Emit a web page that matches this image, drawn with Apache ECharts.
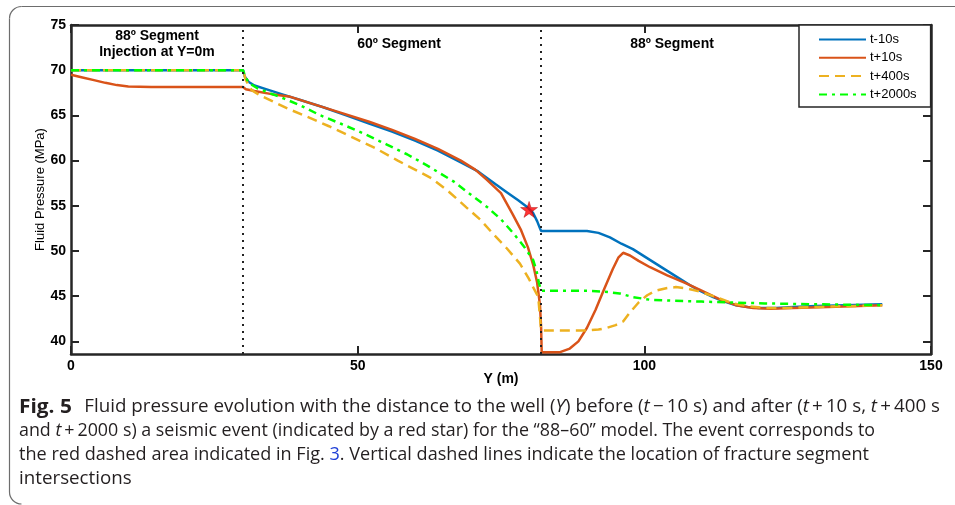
<!DOCTYPE html>
<html><head><meta charset="utf-8">
<script src="https://cdn.jsdelivr.net/npm/echarts@6/dist/echarts.min.js"></script>
<style>html,body{margin:0;padding:0;background:#fff}#c{width:955px;height:505px}</style>
</head><body><div id="c"></div>
<script>
const seriesNames = ['t-10s', 't+10s', 't+400s', 't+2000s'];
const yTicks = [40, 45, 50, 55, 60, 65, 70, 75];
const segmentBoundaries = [30, 82];
const eventPoint = [[79.9, 54.6]];

const pMinus10 = [[0,70],[30,70],[30.3,69.3],[31,68.7],[32,68.3],[34,67.9],[37,67.3],[40,66.7],[44,65.9],[48,65.0],[52,64.1],[56,63.2],[60,62.2],[64,61.1],[68,59.8],[71,58.8],[74,57.4],[76,56.5],[78,55.6],[79.5,54.9],[80.6,54.2],[81.3,53.3],[81.8,52.5],[82,52.2],[86,52.2],[90,52.2],[92,52.0],[94,51.5],[96,50.8],[98,50.2],[100,49.4],[102,48.6],[104,47.8],[106,47.0],[108,46.2],[110,45.5],[112,44.9],[114,44.4],[116,44.0],[118,43.8],[120,43.7],[123,43.7],[126,43.8],[130,43.9],[135,44.0],[141.5,44.1]];
const pPlus10 = [[0,69.5],[2,69.2],[4,68.9],[6,68.6],[8,68.35],[10,68.2],[14,68.15],[20,68.15],[30,68.15],[30.5,67.9],[32,67.7],[35,67.35],[38,67.1],[42,66.3],[47,65.3],[52,64.3],[56,63.4],[60,62.4],[64,61.3],[68,60.0],[70.5,59.0],[72.5,57.9],[75,56.4],[77,54.1],[78.5,52.3],[79.7,50.4],[80.6,48.5],[81.3,46.5],[81.8,44.0],[82,41.5],[82.1,38.8],[85.3,38.8],[87,39.2],[88.5,40.0],[90,41.5],[91.5,43.5],[93,45.8],[94.5,48.0],[95.5,49.3],[96.3,49.8],[97.5,49.5],[99,48.9],[101,48.2],[104,47.3],[107,46.5],[110,45.6],[113,44.7],[116,44.0],[119,43.7],[122,43.6],[126,43.7],[132,43.8],[141.5,44.0]];
const pPlus400 = [[0,70],[30,70],[30.5,68.9],[31.5,67.8],[33,67.2],[35,66.6],[38,65.7],[41,64.9],[45,63.8],[49,62.6],[53,61.4],[57,60.0],[60,59.0],[63,58.0],[66,56.5],[69,54.8],[71.5,53.4],[73.6,51.9],[76,50.3],[78.3,48.6],[79.8,47.0],[80.6,46.0],[81.5,44.9],[82,41.2],[86,41.2],[90,41.2],[92,41.3],[93.5,41.5],[95,41.8],[96.3,42.2],[97.5,43.2],[99,44.3],[100.5,45.1],[102,45.6],[104,45.9],[105.5,46.0],[107,45.9],[109.7,45.5],[112,45.0],[115.5,44.2],[118,43.9],[121,43.7],[124,43.7],[130,43.8],[141.5,44.0]];
const pPlus2000 = [[0,70],[30,70],[30.4,69.3],[31,68.6],[32.5,68.0],[34.5,67.5],[37,66.9],[40,66.1],[43.5,65.0],[47,64.1],[51,63.0],[55,61.8],[58.6,60.7],[62,59.5],[66.7,57.7],[70,56.1],[72.5,54.9],[75,53.5],[77.1,52.0],[79,50.5],[80.6,49.0],[81.2,47.8],[81.6,46.5],[82,45.6],[86,45.6],[90,45.6],[93,45.5],[95.7,45.3],[98,44.9],[101,44.6],[105,44.5],[110,44.4],[115,44.3],[121,44.2],[130,44.1],[141.5,44.0]];

const captionLines = [
  [['b','Fig. 5'],['n','\u2002\u2009Fluid pressure evolution with the distance to the well ('],['i','Y'],['n',') before ('],['i','t'],['n','\u2009\u2212\u200910 s) and after ('],['i','t'],['n','\u2009+\u200910 s, '],['i','t'],['n','\u2009+\u2009400 s']],
  [['n','and '],['i','t'],['n','\u2009+\u20092000 s) a seismic event (indicated by a red star) for the \u201c88\u201360\u201d model. The event corresponds to']],
  [['n','the red dashed area indicated in Fig. '],['l','3'],['n','. Vertical dashed lines indicate the location of fracture segment']],
  [['n','intersections']]
];
const captionWidths = [921, 856, 850, null];

const AX = '#262626';
const FONT = 'Liberation Sans, Arial, Helvetica, sans-serif';
const CAPFONT = '"Open Sans", "Noto Sans", sans-serif';
const CAPSIZE = 18;
const BOLDSIZE = 20;

const cv = document.createElement('canvas').getContext('2d');
function fontFor(k){
  const w = k === 'b' ? 'bold ' : '';
  const s = k === 'i' ? 'italic ' : '';
  return s + w + (k === 'b' ? BOLDSIZE : CAPSIZE) + 'px ' + CAPFONT;
}
function lineWidth(line){
  let w = 0;
  line.forEach(([k, t]) => { cv.font = fontFor(k); w += cv.measureText(t).width; });
  return w;
}
const baseScale = captionWidths[0] / lineWidth(captionLines[0]);
const capY = [407, 431, 455, 479];
const captionGraphics = captionLines.map((line, i) => ({
  type: 'text', x: 19, y: capY[i], silent: true,
  scaleX: captionWidths[i] ? captionWidths[i] / lineWidth(line) : baseScale,
  style: {
    text: line.map(([k, t]) => '{' + k + '|' + t + '}').join(''),
    verticalAlign: 'middle', align: 'left',
    rich: {
      n: { fontFamily: CAPFONT, fontSize: CAPSIZE, fill: '#231f20' },
      b: { fontFamily: CAPFONT, fontSize: BOLDSIZE, fontWeight: 'bold', fill: '#231f20' },
      i: { fontFamily: CAPFONT, fontSize: CAPSIZE, fontStyle: 'italic', fill: '#231f20' },
      l: { fontFamily: CAPFONT, fontSize: CAPSIZE, fill: '#1f3fd6' }
    }
  }
}));

const chart = echarts.init(document.getElementById('c'), null, { renderer: 'canvas' });

const axisCommon = {
  axisLine: { show: true, onZero: false, lineStyle: { color: AX, width: 2.5 } },
  axisTick: { show: true, inside: true, length: 8, lineStyle: { color: AX, width: 2 } },
  splitLine: { show: false }
};
const starPath = 'path://M50,0 L61,35 L98,35 L68,57 L79,91 L50,70 L21,91 L32,57 L2,35 L39,35 Z';
const frameStyle = { fill: 'none', stroke: '#6d6d6d', lineWidth: 1.2 };

const option = {
  animation: false,
  backgroundColor: '#fff',
  grid: { left: 71, top: 25, right: 24, bottom: 151, containLabel: false },
  xAxis: [
    Object.assign({}, axisCommon, {
      type: 'value', min: 0, max: 150, interval: 50, position: 'bottom',
      axisLabel: { color: '#000', fontFamily: FONT, fontWeight: 'bold', fontSize: 14, margin: 5 },
      name: 'Y (m)', nameLocation: 'middle', nameGap: 18, nameMoveOverlap: false,
      nameTextStyle: { color: '#000', fontFamily: FONT, fontWeight: 'bold', fontSize: 14 }
    }),
    Object.assign({}, axisCommon, {
      type: 'value', min: 0, max: 150, interval: 50, position: 'top',
      axisLabel: { show: false }
    })
  ],
  yAxis: [
    Object.assign({}, axisCommon, {
      type: 'value', min: 38.6, max: 75, position: 'left',
      axisTick: Object.assign({}, axisCommon.axisTick, { customValues: yTicks }),
      axisLabel: { customValues: yTicks, color: '#000', fontFamily: FONT, fontWeight: 'bold', fontSize: 14, margin: 5 },
      name: 'Fluid Pressure (MPa)', nameLocation: 'middle', nameGap: 24, nameMoveOverlap: false,
      nameTextStyle: { color: '#000', fontFamily: FONT, fontSize: 13 }
    }),
    Object.assign({}, axisCommon, {
      type: 'value', min: 38.6, max: 75, position: 'right',
      axisTick: Object.assign({}, axisCommon.axisTick, { customValues: yTicks }),
      axisLabel: { show: false, customValues: yTicks }
    })
  ],
  legend: {
    data: seriesNames, orient: 'vertical', left: 799, top: 25,
    backgroundColor: '#fff', borderColor: AX, borderWidth: 1.5, borderRadius: 0,
    padding: [8, 14, 6, 19], itemWidth: 47, itemHeight: 14, itemGap: 5.3,
    itemStyle: { opacity: 0 },
    textStyle: { color: '#000', fontFamily: FONT, fontSize: 13, padding: [0, 0, 0, -1] },
    selectedMode: false
  },
  graphic: [
    { type: 'line', silent: true, shape: { x1: 21.5, y1: 6.5, x2: 1000, y2: 6.5 }, style: frameStyle },
    { type: 'line', silent: true, shape: { x1: 9.5, y1: 18.5, x2: 9.5, y2: 492 }, style: frameStyle },
    { type: 'arc', silent: true, shape: { cx: 21.5, cy: 18.5, r: 12, startAngle: Math.PI, endAngle: Math.PI * 1.5, clockwise: true }, style: frameStyle },
    { type: 'arc', silent: true, shape: { cx: 21.5, cy: 492, r: 12, startAngle: Math.PI * 0.5, endAngle: Math.PI, clockwise: true }, style: frameStyle },
    { type: 'text', x: 157, y: 36, silent: true, style: { text: '88º Segment', align: 'center', verticalAlign: 'middle', fontFamily: FONT, fontWeight: 'bold', fontSize: 14, fill: '#000' } },
    { type: 'text', x: 157, y: 52, silent: true, style: { text: 'Injection at Y=0m', align: 'center', verticalAlign: 'middle', fontFamily: FONT, fontWeight: 'bold', fontSize: 14, fill: '#000' } },
    { type: 'text', x: 399, y: 44, silent: true, style: { text: '60º Segment', align: 'center', verticalAlign: 'middle', fontFamily: FONT, fontWeight: 'bold', fontSize: 14, fill: '#000' } },
    { type: 'text', x: 672, y: 44, silent: true, style: { text: '88º Segment', align: 'center', verticalAlign: 'middle', fontFamily: FONT, fontWeight: 'bold', fontSize: 14, fill: '#000' } }
  ].concat(captionGraphics),
  series: [
    { name: seriesNames[0], type: 'line', data: pMinus10, showSymbol: false, symbol: 'none',
      lineStyle: { color: '#0072BD', width: 2.5 }, itemStyle: { color: '#0072BD' },
      markLine: { silent: true, symbol: ['none', 'none'], label: { show: false },
        lineStyle: { color: '#222', width: 2, type: [2, 5] },
        data: segmentBoundaries.map(v => ({ xAxis: v })) } },
    { name: seriesNames[1], type: 'line', data: pPlus10, showSymbol: false, symbol: 'none',
      lineStyle: { color: '#D95319', width: 2.5 }, itemStyle: { color: '#D95319' } },
    { name: seriesNames[2], type: 'line', data: pPlus400, showSymbol: false, symbol: 'none',
      lineStyle: { color: '#EDB120', width: 2.5, type: [10, 6] }, itemStyle: { color: '#EDB120' } },
    { name: seriesNames[3], type: 'line', data: pPlus2000, showSymbol: false, symbol: 'none',
      lineStyle: { color: '#00FF00', width: 2.5, type: [8, 5, 3, 5] }, itemStyle: { color: '#00FF00' } },
    { name: 'event', type: 'scatter', data: eventPoint, symbol: starPath, symbolSize: [17, 16],
      itemStyle: { color: '#FF0000', borderColor: '#9a0000', borderWidth: 0.5 }, z: 5 }
  ]
};
chart.setOption(option);
</script></body></html>
